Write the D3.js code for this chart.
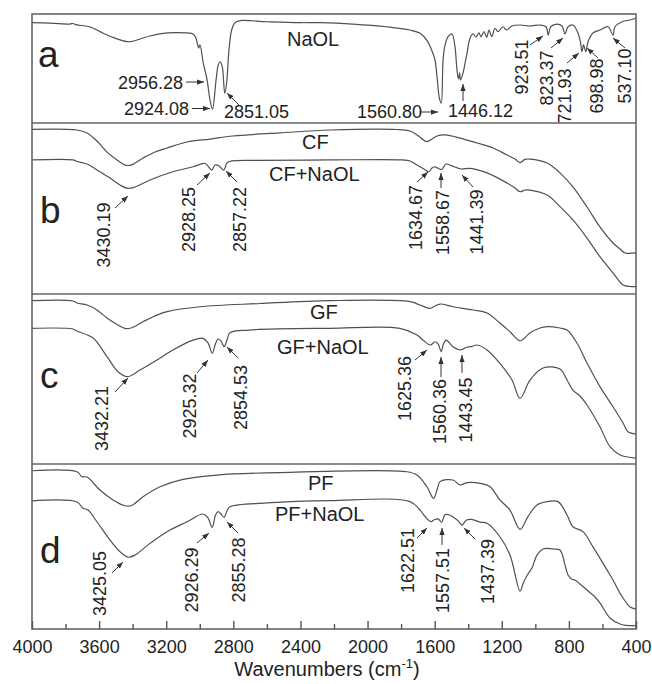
<!DOCTYPE html>
<html><head><meta charset="utf-8">
<script src="https://cdn.jsdelivr.net/npm/d3@7"></script>
<style>
body{margin:0;background:#fff}
svg{display:block}
text{font-family:"Liberation Sans",Arial,sans-serif;fill:#222}
</style>
</head><body>
<svg id="chart" width="652" height="684"></svg>
<script>
// ---------- DATA ----------
const majorTicks = [4000,3600,3200,2800,2400,2000,1600,1200,800,400];
const minorTicks = [3800,3400,3000,2600,2200,1800,1400,1000,600];
const panelLetters = ["a","b","c","d"];
const seriesNames = ["NaOL","CF","CF+NaOL","GF","GF+NaOL","PF","PF+NaOL"];

// [wavenumber cm-1, relative transmittance %]
const NaOL = [[4000,92.0],[3893,91.7],[3774,90.8],[3756,91.3],[3738,90.2],[3654,88.1],[3595,83.8],[3523,78.9],[3434,74.6],[3398,75.0],[3338,78.0],[3297,79.8],[3195,82.6],[3076,82.6],[3040,81.7],[3023,78.0],[3007,68.8],[2999,71.6],[2979,55.0],[2956.28,39.4],[2939,21.1],[2924.08,12.8],[2903,39.4],[2890,53.2],[2879,56.2],[2866,51.7],[2851.05,27.2],[2840,36.7],[2826,67.0],[2810,85.3],[2790,92.0],[2760,93.9],[2599,92.9],[2403,92.0],[2283,92.0],[2087,90.8],[1884,88.3],[1747,85.3],[1687,82.3],[1647,76.1],[1618,67.0],[1598,57.8],[1584,39.4],[1572,22.9],[1560.80,18.3],[1550,57.8],[1538,71.6],[1520,79.2],[1497,81.7],[1479,70.0],[1467,48.6],[1458,40.4],[1451,45.9],[1446.12,39.4],[1431,45.9],[1422,52.3],[1407,64.2],[1389,78.0],[1371,81.7],[1354,78.9],[1336,82.6],[1324,79.2],[1306,83.8],[1290,78.6],[1276,85.3],[1260,79.2],[1240,86.9],[1222,83.8],[1193,88.3],[1171,85.3],[1139,89.0],[1091,89.9],[1032,89.0],[972,89.9],[936,88.3],[923.51,80.7],[908,88.3],[871,90.8],[841,89.0],[823.37,81.7],[805,88.3],[776,89.9],[746,82.6],[731,74.3],[721.93,65.4],[713,71.6],[698.98,65.4],[686,74.6],[656,82.6],[614,85.3],[567,88.3],[537.10,80.7],[525,88.3],[483,92.9],[436,94.5],[400,96.1]];

const CF = [[4000,96.3],[3732,95.9],[3672,94.2],[3613,89.5],[3553,83.0],[3493,78.4],[3446,75.4],[3410,75.4],[3338,79.5],[3267,83.0],[3195,85.4],[3076,88.9],[2939,90.6],[2802,92.4],[2522,94.2],[2224,95.9],[1825,96.2],[1747,95.3],[1705,93.0],[1646,89.1],[1616,90.6],[1586,92.4],[1538,93.0],[1449,91.2],[1348,88.3],[1252,85.4],[1169,81.3],[1121,78.9],[1091,76.8],[1062,78.7],[1032,78.9],[930,76.6],[853,70.8],[776,62.6],[692,50.9],[615,39.2],[537,29.8],[495,26.3],[465,24.0],[400,24.0]];

const CF_NaOL = [[4000,78.4],[3756,78.4],[3732,77.5],[3672,76.0],[3595,71.5],[3535,67.8],[3475,63.7],[3430.19,61.8],[3386,62.6],[3297,66.7],[3160,71.5],[3040,74.4],[2969,76.3],[2928.25,72.5],[2909,75.4],[2885,74.9],[2857.22,72.5],[2838,76.6],[2808,77.8],[2641,78.1],[2224,78.4],[1789,78.4],[1747,77.8],[1705,75.4],[1664,73.1],[1634.67,71.5],[1616,73.7],[1598,74.4],[1583,73.7],[1558.67,72.8],[1532,76.0],[1497,74.9],[1441.39,73.1],[1389,73.5],[1288,70.8],[1169,64.9],[1121,62.0],[1091,59.8],[1062,60.8],[1032,60.8],[930,57.9],[853,51.1],[776,43.3],[692,32.7],[615,21.8],[537,12.3],[477,5.3],[436,4.4],[400,4.3]];

const GF = [[4000,96.1],[3756,95.9],[3732,94.7],[3672,93.5],[3613,90.6],[3553,85.9],[3493,82.1],[3446,79.8],[3410,80.0],[3338,83.7],[3267,87.1],[3195,89.6],[2999,92.5],[2641,94.4],[2224,96.1],[1747,95.5],[1687,93.5],[1628,91.6],[1598,92.9],[1568,94.1],[1491,92.5],[1372,90.6],[1288,88.8],[1211,82.9],[1151,77.8],[1091,72.5],[1032,77.1],[972,80.0],[930,80.8],[853,80.0],[811,78.8],[752,71.2],[692,59.4],[615,45.5],[537,33.7],[477,24.1],[448,19.0],[400,17.6]];

const GF_NaOL = [[4000,79.8],[3756,79.4],[3732,78.2],[3636,74.1],[3553,63.1],[3487,54.3],[3432.21,51.4],[3356,55.3],[3255,61.2],[3160,67.1],[3040,72.9],[2981,73.9],[2951,71.2],[2925.32,65.1],[2909,70.0],[2891,73.5],[2874,72.4],[2854.53,69.0],[2838,72.9],[2820,77.2],[2701,78.8],[2224,79.8],[1807,79.8],[1705,75.9],[1670,72.9],[1625.36,70.0],[1598,71.9],[1580,70.6],[1560.36,66.1],[1550,70.0],[1532,72.9],[1491,69.0],[1443.45,67.1],[1407,68.8],[1383,69.0],[1348,70.0],[1288,67.1],[1211,59.2],[1139,49.4],[1091,38.6],[1032,49.4],[954,56.5],[853,55.9],[811,49.4],[776,43.5],[734,40.0],[692,34.7],[615,21.9],[555,10.2],[495,5.3],[400,3.5]];

const PF = [[4000,95.9],[3732,95.3],[3702,92.3],[3672,92.1],[3595,84.2],[3517,78.2],[3446,74.7],[3410,74.7],[3338,80.2],[3237,86.2],[3100,90.7],[2897,93.3],[2522,94.8],[1765,95.3],[1705,93.3],[1646,86.2],[1607,79.2],[1586,84.2],[1568,89.3],[1491,90.3],[1449,87.3],[1407,88.7],[1330,88.3],[1270,86.2],[1211,78.2],[1151,72.1],[1091,60.4],[1044,68.1],[990,75.2],[930,77.2],[865,77.2],[811,69.1],[776,62.0],[716,59.0],[657,49.9],[573,35.8],[537,29.7],[495,21.6],[477,18.8],[436,13.3],[400,12.1]];

const PF_NaOL = [[4000,77.6],[3732,77.0],[3696,73.2],[3666,72.1],[3613,65.0],[3535,53.9],[3475,46.8],[3425.05,43.5],[3386,44.8],[3297,51.9],[3195,59.0],[3076,65.0],[2981,69.7],[2951,67.3],[2926.29,61.6],[2906,69.1],[2891,71.1],[2874,69.7],[2855.28,67.7],[2838,71.5],[2820,74.1],[2599,76.4],[2224,77.8],[1747,77.2],[1687,72.1],[1660,68.5],[1622.51,65.0],[1600,66.4],[1580,66.7],[1557.51,64.8],[1540,69.1],[1520,69.4],[1490,67.9],[1460,65.5],[1437.39,63.0],[1410,66.1],[1380,66.4],[1330,64.8],[1288,64.1],[1211,55.9],[1151,44.8],[1091,23.0],[1072,27.9],[1044,33.3],[1020,37.0],[990,44.8],[954,48.5],[930,48.9],[890,48.5],[853,47.9],[823,38.8],[805,32.7],[785,30.3],[765,29.7],[734,27.3],[692,23.6],[650,20.0],[615,15.8],[555,6.7],[495,3.0],[460,2.2],[400,2.0]];

// labelled peak positions per panel
const peaksA = [2956.28,2924.08,2851.05,1560.80,1446.12,923.51,823.37,721.93,698.98,537.10];
const peaksB = [3430.19,2928.25,2857.22,1634.67,1558.67,1441.39];
const peaksC = [3432.21,2925.32,2854.53,1625.36,1560.36,1443.45];
const peaksD = [3425.05,2926.29,2855.28,1622.51,1557.51,1437.39];

// ---------- LAYOUT ----------
const W = 652, H = 684;
const L = 32, R = 636;
const panelBounds = [[14,123],[123,294],[294,464],[464,629]];
const FONT = 18;

// annotation layout (same order as peak arrays): text position, rotation, arrow tail->head
const layoutA = [
  {x:118,y:89,rot:0, a:[186,82,204,82]},
  {x:124,y:115,rot:0,a:[192,108.5,210,108.5]},
  {x:224,y:118,rot:0,a:[240,106,227,93]},
  {x:357,y:118,rot:0,a:[421,112,438,112]},
  {x:448,y:117,rot:0,a:[463,101,463,84]},
  {x:522,y:67,rot:1, a:[530,45,543,36]},
  {x:547,y:78,rot:1, a:[551,48,563,38]},
  {x:565,y:96,rot:1, a:[567,63,579,53]},
  {x:597,y:86,rot:1, a:[598,58,587,48]},
  {x:625,y:76,rot:1, a:[625,48,613,38]}
];
const layoutB = [
  {x:104,y:235,rot:1,a:[115,208,128,196]},
  {x:189,y:219.5,rot:1,a:[197,185,210,173]},
  {x:240,y:219.5,rot:1,a:[237,182,226,171]},
  {x:415.5,y:217.5,rot:1,a:[417,182,428,172]},
  {x:443,y:222.5,rot:1,a:[441,188,441,173]},
  {x:477,y:222,rot:1,a:[473,187,462,175]}
];
const layoutC = [
  {x:102,y:418.5,rot:1,a:[115,392,128,378]},
  {x:190,y:406,rot:1,a:[197,373,208,360]},
  {x:240.5,y:397.5,rot:1,a:[238,358,227,347]},
  {x:405,y:388.5,rot:1,a:[415,360,427,350]},
  {x:440,y:411.5,rot:1,a:[441,377,441,357]},
  {x:466,y:410,rot:1,a:[462,373,462,355]}
];
const layoutD = [
  {x:100,y:583.5,rot:1,a:[112,573,123,562]},
  {x:191.5,y:580,rot:1,a:[197,543,209,533]},
  {x:238.5,y:570,rot:1,a:[238,533,227,522]},
  {x:407.5,y:560.5,rot:1,a:[417,538,427,528]},
  {x:442.5,y:580.5,rot:1,a:[442,545,442,528]},
  {x:487.5,y:571.5,rot:1,a:[475,539,464,528]}
];

const panels = [
  {letter:panelLetters[0], letterPos:[38,67], series:[NaOL], names:[[seriesNames[0],287,46]], peaks:peaksA, layout:layoutA},
  {letter:panelLetters[1], letterPos:[40,223], series:[CF,CF_NaOL], names:[[seriesNames[1],302,149],[seriesNames[2],269,181]], peaks:peaksB, layout:layoutB},
  {letter:panelLetters[2], letterPos:[40,388], series:[GF,GF_NaOL], names:[[seriesNames[3],310,319],[seriesNames[4],277,354]], peaks:peaksC, layout:layoutC},
  {letter:panelLetters[3], letterPos:[40,563], series:[PF,PF_NaOL], names:[[seriesNames[5],308,490],[seriesNames[6],275,521]], peaks:peaksD, layout:layoutD}
];

// ---------- DRAW ----------
const svg = d3.select("#chart");
const x = d3.scaleLinear().domain([4000,400]).range([L,R]);

svg.append("defs").append("marker")
  .attr("id","ah").attr("viewBox","0 0 8 6").attr("refX",8).attr("refY",3)
  .attr("markerWidth",7).attr("markerHeight",5.5).attr("markerUnits","userSpaceOnUse")
  .attr("orient","auto")
  .append("path").attr("d","M0,0 L8,3 L0,6 Z").attr("fill","#333");

const fmt = d3.format(".2f");

panels.forEach((p,i)=>{
  const [top,bottom] = panelBounds[i];
  const y = d3.scaleLinear().domain([0,100]).range([bottom,top]);
  const line = d3.line().x(d=>x(d[0])).y(d=>y(d[1])).curve(d3.curveCatmullRom.alpha(0.5));
  const g = svg.append("g");
  p.series.forEach(s=>{
    g.append("path").datum(s).attr("d",line)
      .attr("fill","none").attr("stroke","#505050").attr("stroke-width",1.2)
      .attr("stroke-linejoin","round");
  });
  g.append("text").attr("x",p.letterPos[0]).attr("y",p.letterPos[1])
    .attr("font-size",37).text(p.letter);
  p.names.forEach(n=>{
    g.append("text").attr("x",n[1]).attr("y",n[2]).attr("font-size",20).text(n[0]);
  });
  p.peaks.forEach((pk,j)=>{
    const lay = p.layout[j];
    if(lay.rot){
      g.append("text").attr("transform",`translate(${lay.x},${lay.y}) rotate(-90)`)
        .attr("text-anchor","middle").attr("dominant-baseline","central")
        .attr("font-size",FONT).text(fmt(pk));
    } else {
      g.append("text").attr("x",lay.x).attr("y",lay.y).attr("font-size",FONT).text(fmt(pk));
    }
    g.append("line").attr("x1",lay.a[0]).attr("y1",lay.a[1]).attr("x2",lay.a[2]).attr("y2",lay.a[3])
      .attr("stroke","#333").attr("stroke-width",1).attr("marker-end","url(#ah)");
  });
});

// frame and panel separators
const frame = svg.append("g").attr("stroke","#666").attr("stroke-width",1.6).attr("fill","none");
frame.append("rect").attr("x",L).attr("y",panelBounds[0][0]).attr("width",R-L).attr("height",panelBounds[3][1]-panelBounds[0][0]);
panelBounds.slice(1).forEach(b=>{
  frame.append("line").attr("x1",L).attr("x2",R).attr("y1",b[0]).attr("y2",b[0]);
});

// x axis
const axisY = panelBounds[3][1];
const ax = svg.append("g").attr("transform",`translate(0,${axisY})`)
  .call(d3.axisBottom(x).tickValues(majorTicks).tickSize(-8).tickPadding(11).tickFormat(d3.format("d")));
ax.select(".domain").remove();
ax.selectAll(".tick line").attr("stroke","#555").attr("stroke-width",1.4);
ax.selectAll(".tick text").attr("font-size",18).attr("fill","#222")
  .attr("font-family",'"Liberation Sans",Arial,sans-serif');
const axm = svg.append("g").attr("transform",`translate(0,${axisY})`)
  .call(d3.axisBottom(x).tickValues(minorTicks).tickSize(-5).tickFormat(""));
axm.select(".domain").remove();
axm.selectAll(".tick line").attr("stroke","#555").attr("stroke-width",1.4);

const title = svg.append("text").attr("x",327).attr("y",676).attr("text-anchor","middle").attr("font-size",20);
title.append("tspan").text("Wavenumbers (cm");
title.append("tspan").attr("font-size",13).attr("dy",-8).text("-1");
title.append("tspan").attr("dy",8).text(")");
</script>
</body></html>
